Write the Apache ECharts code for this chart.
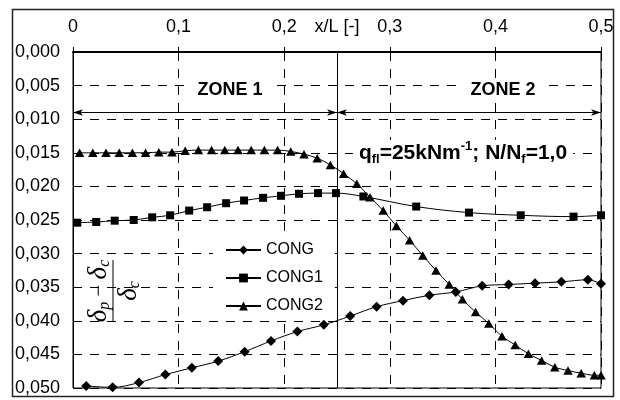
<!DOCTYPE html>
<html>
<head>
<meta charset="utf-8">
<script src="https://cdn.jsdelivr.net/npm/echarts@6/dist/echarts.min.js"></script>
<style>
  html, body { margin: 0; padding: 0; background: #fff; }
  #chart { width: 620px; height: 400px; }
</style>
</head>
<body>
<div id="chart"></div>
<script>
// x/L positions and deflection ratios
const congX = [0.0125, 0.0375, 0.0625, 0.0875, 0.1125, 0.1375, 0.1625, 0.1875, 0.2125, 0.2375,
  0.2625, 0.2875, 0.3125, 0.3375, 0.3625, 0.3875, 0.4125, 0.4375, 0.4625, 0.4875, 0.5]
const congY = [0.0497, 0.0499, 0.0492, 0.0480, 0.0470, 0.0460, 0.0446, 0.0430, 0.0416, 0.0406,
  0.0393, 0.0379, 0.0370, 0.0362, 0.0357, 0.0348, 0.0346, 0.0344, 0.0342, 0.0339, 0.0345]

const cong1X = [0.004, 0.022, 0.0395, 0.0575, 0.075, 0.092, 0.11, 0.127, 0.145, 0.162,
  0.18, 0.197, 0.214, 0.232, 0.249, 0.275, 0.325, 0.375, 0.424, 0.474, 0.5]
const cong1Y = [0.0254, 0.0253, 0.0251, 0.0250, 0.0246, 0.0243, 0.0236, 0.0231, 0.0225, 0.0221,
  0.0217, 0.0214, 0.0211, 0.0210, 0.0210, 0.0215, 0.0230, 0.0239, 0.0243, 0.0245, 0.0243]

const cong2X = [0.00625, 0.01875, 0.03125, 0.04375, 0.05625, 0.06875, 0.08125, 0.09375, 0.10625, 0.11875,
  0.13125, 0.14375, 0.15625, 0.16875, 0.18125, 0.19375, 0.20625, 0.21875, 0.23125, 0.24375,
  0.25625, 0.26875, 0.28125, 0.29375, 0.30625, 0.31875, 0.33125, 0.34375, 0.35625, 0.36875,
  0.38125, 0.39375, 0.40625, 0.41875, 0.43125, 0.44375, 0.45625, 0.46875, 0.48125, 0.49375, 0.5]
const cong2Y = [0.0150, 0.0150, 0.0150, 0.0150, 0.0150, 0.0150, 0.0149, 0.0149, 0.0147, 0.0146,
  0.0146, 0.0146, 0.0146, 0.0146, 0.0146, 0.0146, 0.0148, 0.0152, 0.0158, 0.0168,
  0.0181, 0.0196, 0.0216, 0.0236, 0.0259, 0.0280, 0.0303, 0.0325, 0.0346, 0.0368,
  0.0387, 0.0404, 0.0423, 0.0436, 0.0449, 0.0459, 0.0469, 0.0474, 0.0478, 0.0481, 0.0481]

// zone boundaries (x/L) and arrow level
const zoneEdges = [0, 0.25, 0.5]
const arrowLevel = 0.009

const FONT = 'Liberation Sans, Arial, sans-serif'
const SERIF = 'Liberation Serif, Times New Roman, serif'

function zip(xs, ys) {
  return xs.map((x, i) => [x, ys[i]])
}

const chart = echarts.init(document.getElementById('chart'), null, { renderer: 'canvas' })

const lineBase = {
  type: 'line',
  smooth: 0.35,
  color: '#000',
  itemStyle: { color: '#000' },
  lineStyle: { color: '#000', width: 1 },
  emphasis: { disabled: true }
}

chart.setOption({
  animation: false,
  backgroundColor: '#fff',
  textStyle: { fontFamily: FONT },
  grid: {
    left: 73,
    right: 19,
    top: 52,
    bottom: 12,
    show: true,
    borderColor: '#000',
    borderWidth: 1,
    containLabel: false,
    outerBoundsMode: 'none'
  },
  legend: {
    orient: 'vertical',
    left: 213,
    top: 236,
    padding: [6, 12, 6, 12],
    backgroundColor: '#fff',
    itemWidth: 35,
    itemHeight: 11,
    itemGap: 12,
    textStyle: { fontSize: 16, color: '#000', fontFamily: FONT },
    data: ['CONG', 'CONG1', 'CONG2']
  },
  xAxis: {
    type: 'value',
    position: 'top',
    min: 0,
    max: 0.5,
    interval: 0.1,
    name: 'x/L [-]',
    nameLocation: 'middle',
    nameGap: 16,
    nameMoveOverlap: false,
    nameTextStyle: { fontSize: 18, color: '#000', fontFamily: FONT },
    axisLine: { show: true, onZero: false, lineStyle: { color: '#000', width: 2 } },
    axisTick: { show: true, length: 5, lineStyle: { color: '#000' } },
    axisLabel: {
      fontSize: 18,
      color: '#000',
      margin: 16,
      formatter: v => (v === 0 ? '0' : v.toFixed(1).replace('.', ','))
    },
    splitLine: { show: true, lineStyle: { type: [9, 8], color: '#000', width: 1 } }
  },
  yAxis: {
    type: 'value',
    inverse: true,
    min: 0,
    max: 0.05,
    interval: 0.005,
    axisLine: { show: true, lineStyle: { color: '#000', width: 1 } },
    axisTick: { show: false },
    axisLabel: {
      fontSize: 18,
      color: '#000',
      margin: 13,
      formatter: v => v.toFixed(3).replace('.', ',')
    },
    splitLine: { show: true, lineStyle: { type: [9, 8], color: '#000', width: 1 } }
  },
  series: [
    Object.assign({}, lineBase, {
      name: 'CONG',
      symbol: 'diamond',
      symbolSize: 10,
      data: zip(congX, congY),
      markLine: {
        silent: true,
        symbol: ['none', 'none'],
        label: { show: false },
        lineStyle: { color: '#000', width: 1, type: 'solid' },
        data: [{ xAxis: zoneEdges[1] }]
      }
    }),
    Object.assign({}, lineBase, {
      name: 'CONG1',
      symbol: 'rect',
      symbolSize: 8,
      data: zip(cong1X, cong1Y),
      markLine: {
        silent: true,
        symbol: ['arrow', 'arrow'],
        symbolSize: [5, 10],
        label: { show: false },
        lineStyle: { color: '#000', width: 1, type: 'solid' },
        data: [
          [{ coord: [zoneEdges[0], arrowLevel] }, { coord: [zoneEdges[1], arrowLevel] }],
          [{ coord: [zoneEdges[1], arrowLevel] }, { coord: [zoneEdges[2], arrowLevel] }]
        ]
      }
    }),
    Object.assign({}, lineBase, {
      name: 'CONG2',
      symbol: 'triangle',
      symbolSize: [9.5, 8.5],
      data: zip(cong2X, cong2Y)
    })
  ],
  graphic: [
    {
      type: 'rect',
      z: 100,
      shape: { x: 12.5, y: 9.5, width: 601, height: 387 },
      style: { fill: 'none', stroke: '#222', lineWidth: 1.5 }
    },
    {
      type: 'text',
      z: 100,
      x: 230,
      y: 90,
      style: {
        text: 'ZONE 1',
        font: 'bold 18px ' + FONT,
        fill: '#000',
        align: 'center',
        verticalAlign: 'middle',
        backgroundColor: '#fff',
        padding: [3, 8]
      }
    },
    {
      type: 'text',
      z: 100,
      x: 503,
      y: 90,
      style: {
        text: 'ZONE 2',
        font: 'bold 18px ' + FONT,
        fill: '#000',
        align: 'center',
        verticalAlign: 'middle',
        backgroundColor: '#fff',
        padding: [3, 8]
      }
    },
    {
      type: 'text',
      z: 100,
      x: 463,
      y: 153,
      style: {
        text: '{b|q}{sb|fl}{b|=25kNm}{sp|-1}{b|; N/N}{sb|f}{b|=1,0}',
        align: 'center',
        verticalAlign: 'middle',
        backgroundColor: '#fff',
        padding: [0, 6],
        rich: {
          b: { fontSize: 21, fontWeight: 'bold', fontFamily: FONT, lineHeight: 26, fill: '#000' },
          sb: { fontSize: 13, fontWeight: 'bold', fontFamily: FONT, lineHeight: 14, verticalAlign: 'bottom', fill: '#000' },
          sp: { fontSize: 13, fontWeight: 'bold', fontFamily: FONT, lineHeight: 14, verticalAlign: 'top', fill: '#000' }
        }
      }
    },
    {
      // y axis title: (delta_p - delta_c) / delta_c, rotated
      type: 'group',
      z: 100,
      x: 113,
      y: 291,
      rotation: Math.PI / 2,
      children: [
        {
          type: 'rect',
          shape: { x: -37, y: -30, width: 74, height: 60 },
          style: { fill: '#fff' }
        },
        {
          type: 'line',
          shape: { x1: -31, y1: 0, x2: 31, y2: 0 },
          style: { stroke: '#000', lineWidth: 1 }
        },
        {
          type: 'text',
          x: 0,
          y: -14,
          style: {
            text: '{d|δ}{s|p}{m| − }{d|δ}{s|c}',
            align: 'center',
            verticalAlign: 'middle',
            rich: {
              d: { fontSize: 27, fontStyle: 'italic', fontFamily: SERIF, lineHeight: 28, fill: '#000' },
              m: { fontSize: 21, fontFamily: SERIF, lineHeight: 28, fill: '#000' },
              s: { fontSize: 16, fontStyle: 'italic', fontFamily: SERIF, lineHeight: 16, verticalAlign: 'bottom', fill: '#000' }
            }
          }
        },
        {
          type: 'text',
          x: 0,
          y: 16,
          style: {
            text: '{d|δ}{s|c}',
            align: 'center',
            verticalAlign: 'middle',
            rich: {
              d: { fontSize: 27, fontStyle: 'italic', fontFamily: SERIF, lineHeight: 28, fill: '#000' },
              s: { fontSize: 16, fontStyle: 'italic', fontFamily: SERIF, lineHeight: 16, verticalAlign: 'bottom', fill: '#000' }
            }
          }
        }
      ]
    }
  ]
})
</script>
</body>
</html>
